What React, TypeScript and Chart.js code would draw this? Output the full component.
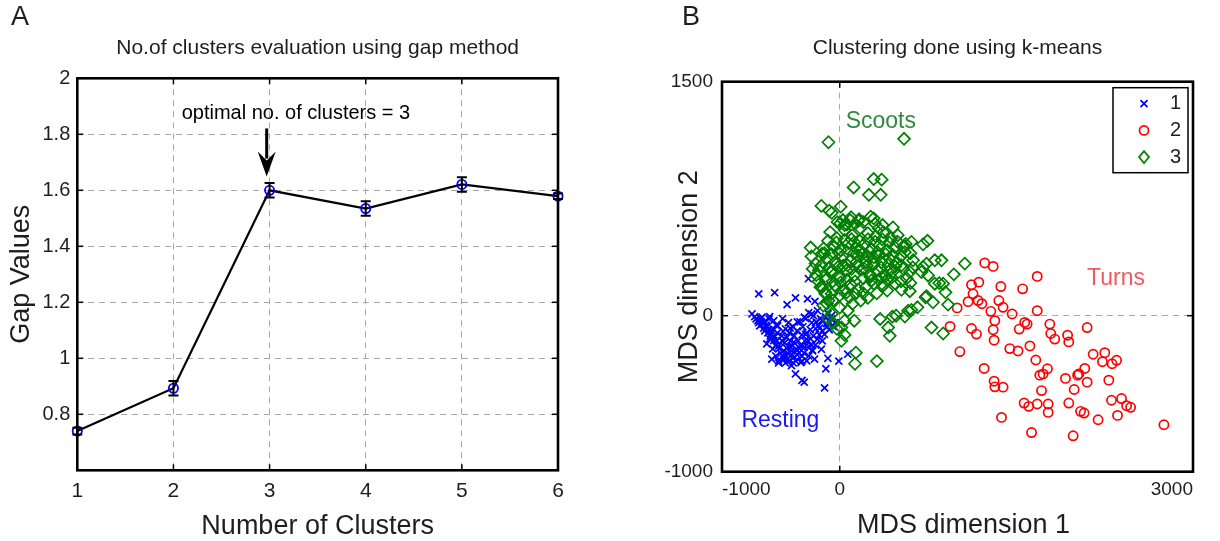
import React, { useEffect, useRef } from 'react';
import { Chart, registerables } from 'chart.js';

Chart.register(...registerables);

const FONT = '"Liberation Sans", Arial, Helvetica, sans-serif';
const TEXT = '#1e1e1e';

// ---------------- Panel A data ----------------
const clusterCounts = [1, 2, 3, 4, 5, 6];
const gapValues = [0.74, 0.893, 1.6, 1.535, 1.621, 1.579];
const gapErrors = [0.012, 0.026, 0.026, 0.026, 0.026, 0.01];
const gapXTicks = [1, 2, 3, 4, 5, 6];
const gapYTicks = [0.8, 1, 1.2, 1.4, 1.6, 1.8, 2];

// ---------------- Panel B data ----------------
const mdsXTicks = [-1000, 0, 3000];
const mdsYTicks = [-1000, 0, 1500];
const legendLabels = ['1', '2', '3'];

// cluster 1 (Resting)
const restingPoints: [number, number][] = [
  [-722, -6], [-696, -32], [-671, -19], [-654, -52], [-637, -39], [-620, -71], [-680, -65], [-637, -97],
  [-603, -90], [-586, -116], [-569, -84], [-553, -136], [-595, -148], [-535, -161], [-493, -129], [-519, -194],
  [-469, -174], [-477, -226], [-452, -207], [-436, -245], [-485, -258], [-444, -278], [-411, -226], [-403, -194],
  [-387, -265], [-419, -161], [-370, -213], [-345, -239], [-329, -194], [-354, -161], [-387, -129], [-428, -110],
  [-461, -84], [-527, -65], [-561, -32], [-595, -6], [-485, -19], [-436, -45], [-395, -71], [-362, -97],
  [-321, -123], [-296, -161], [-271, -200], [-304, -239], [-263, -258], [-230, -226], [-206, -187], [-247, -148],
  [-280, -110], [-313, -71], [-337, -39], [-288, -19], [-238, -45], [-206, -84], [-173, -123], [-148, -161],
  [-181, -65], [-140, -32], [-107, -71], [-82, -45], [-123, -6], [-164, -19], [-222, 0], [-263, 19],
  [-189, 32], [-99, 13], [-66, -19], [-41, -45], [-148, -97], [-214, -278], [-321, -291], [-395, -303],
  [-461, -303], [-543, -258], [-569, -213], [-620, -181], [-577, -278], [-519, -303],
  [-266, 237], [-688, 140], [-553, 148], [-447, 71], [-376, 114], [-274, 108], [-211, 92], [-745, 11],
  [-8, -291], [68, -247], [-101, -273], [-376, -373], [-321, -415], [-302, -426], [-118, -340], [-129, -463],
  [-156, -215], [-233, -221],
  [-710, -20], [-690, -45], [-665, -40], [-645, -80], [-625, -60], [-610, -110], [-590, -130], [-575, -100],
  [-560, -160], [-545, -190], [-530, -110], [-515, -210], [-500, -240], [-490, -160], [-475, -280], [-460, -250],
  [-450, -140], [-430, -290], [-420, -200], [-405, -250], [-390, -170], [-375, -290], [-360, -250], [-340, -210],
  [-320, -260], [-300, -200], [-290, -120], [-270, -160], [-250, -90], [-240, -190], [-225, -130], [-200, -40],
  [-190, -150], [-170, -80], [-150, -30], [-130, -120], [-110, -50], [-90, -90], [-70, 0], [-55, -70],
  [-660, -10], [-600, -20], [-540, -60], [-480, -100], [-420, -80], [-360, -40], [-300, -10], [-240, 10],
  [-330, -300], [-280, -290], [-410, -320], [-520, -290],
];

// cluster 2 (Turns)
const turnsPoints: [number, number][] = [
  [1231, 338], [1303, 316], [1677, 252], [1119, 198], [1181, 215], [1368, 187], [1553, 172], [1132, 140],
  [1090, 90], [1175, 97], [1207, 77], [997, 50], [1351, 97], [1387, 54], [1283, 28], [1464, 11],
  [1677, 32], [1317, -32], [937, -69], [1119, -82], [1161, -118], [1303, -90], [1311, -157], [1571, -43],
  [1591, -54], [1524, -86], [1784, -54], [1792, -114], [1826, -150], [1935, -125], [1945, -168], [2101, -76],
  [1020, -230], [1444, -211], [1514, -226], [1615, -194], [1665, -284], [1226, -338], [1311, -420], [1317, -456],
  [1387, -458], [1699, -381], [1727, -373], [1764, -340], [1714, -480], [1566, -560], [1605, -581], [1677, -566],
  [1770, -566], [1770, -620], [1374, -652], [1629, -749], [1917, -402], [2020, -381], [2031, -373], [2081, -338],
  [2101, -426], [1991, -473], [1945, -560], [2045, -613], [2075, -624], [1982, -770], [2194, -667], [2152, -247],
  [2251, -237], [2231, -295], [2313, -308], [2351, -286], [2285, -413], [2308, -542], [2393, -531], [2436, -577],
  [2470, -587], [2359, -639], [2753, -699],
];

// cluster 3 (Scoots)
const scootsPoints: [number, number][] = [
  [-96, 1112], [546, 1134], [288, 876], [356, 872], [118, 822], [247, 775], [348, 775], [-156, 704],
  [-90, 673], [-68, 660], [8, 699], [96, 631], [164, 618], [288, 624], [364, 581], [452, 566],
  [-247, 437], [-137, 431], [609, 473], [745, 480], [708, 458], [41, 581], [27, 613], [-47, 441],
  [538, 441], [623, 355], [708, 312], [807, 355], [864, 355], [1062, 334], [969, 265], [807, 205],
  [898, 150], [920, 71], [878, 205], [737, 125], [792, 86], [479, 0], [581, 32], [553, -5],
  [660, 54], [343, -21], [411, -76], [425, -129], [779, -76], [878, -114], [14, -76], [41, -123],
  [14, -161], [137, -237], [129, -308], [315, -291], [-68, 11], [-109, 76], [-123, 140], [-150, 183],
  [-150, 398], [553, 445], [737, 334], [694, 280], [750, 258], [728, 118], [595, 157], [524, 166],
  [403, 161], [315, 144], [238, 114], [609, 37], [447, -6], [123, -32], [41, -32], [-178, 291],
  [-206, 334], [-109, 237], [-68, 291], [-14, 312], [82, 118], [109, 76], [68, 32], [178, 97],
  [220, 183], [288, 205], [356, 247], [425, 291], [524, 323], [595, 280], [-96, 97], [-164, 183],
  [-123, 150], [263, 635], [159, 609], [89, 613], [4, 592], [845, 209],
  [-82, 536], [-25, 497], [41, 549], [107, 516], [173, 562], [238, 529], [304, 510], [370, 536],
  [436, 497], [493, 516], [-58, 452], [8, 420], [74, 465], [140, 433], [206, 458], [271, 426],
  [337, 452], [403, 420], [469, 439], [553, 407], [-107, 368], [-41, 342], [25, 381], [90, 355],
  [156, 387], [222, 342], [288, 374], [354, 342], [419, 368], [485, 342], [-74, 278], [-8, 252],
  [58, 291], [123, 258], [189, 297], [255, 265], [321, 291], [387, 252], [452, 284], [569, 239],
  [-41, 194], [25, 161], [90, 200], [156, 168], [271, 226], [370, 194], [469, 207], [-58, 97],
  [0, 52], [206, 303], [140, 342], [173, 420], [238, 381], [321, 407], [66, 323], [123, 471],
  [8, 213], [-140, 65], [-99, -19], [-58, -45], [-25, -84],
  [-20, 600], [60, 585], [130, 590], [200, 600], [300, 590], [330, 560],
  [-100, 480], [-30, 470], [40, 485], [100, 490], [170, 480], [240, 490], [300, 475], [360, 490],
  [420, 470], [490, 475], [560, 460],
  [-130, 400], [-70, 395], [-10, 405], [60, 410], [120, 400], [190, 395], [255, 410], [330, 385],
  [390, 395], [450, 390], [520, 380], [600, 400],
  [-160, 320], [-90, 310], [-30, 330], [30, 320], [100, 300], [160, 315], [230, 320], [290, 330],
  [350, 310], [410, 325], [470, 315], [540, 300], [620, 310],
  [-120, 230], [-60, 220], [0, 240], [60, 230], [130, 220], [200, 240], [260, 250], [330, 230],
  [400, 230], [440, 245], [520, 220], [600, 210],
  [-70, 140], [0, 130], [60, 150], [130, 140], [200, 145],
  [-230, 300], [-200, 260], [-180, 220], [-240, 380],
];

// annotation anchors (data coordinates)
const optimalLabelAnchor = { x: 2.086, y: 1.875 };
const optimalArrow = { x: 2.97, yFrom: 1.821, yTo: 1.649 };
const clusterNameAnchors = [
  { text: 'Scoots', x: 50, y: 1245, color: '#2f8a3f' },
  { text: 'Turns', x: 2100, y: 238, color: '#ef5a5f' },
  { text: 'Resting', x: -835, y: -675, color: '#1818f5' },
];

const font = (size: number) => `${size}px ${FONT}`;

function line(ctx: CanvasRenderingContext2D, x1: number, y1: number, x2: number, y2: number) {
  ctx.beginPath();
  ctx.moveTo(x1, y1);
  ctx.lineTo(x2, y2);
  ctx.stroke();
}

const framePlugin = {
  id: 'frame',
  afterDraw(chart: any) {
    const { ctx, chartArea: a, scales } = chart;
    ctx.save();
    ctx.strokeStyle = '#000';
    ctx.lineWidth = 1.5;
    for (const t of scales.x.ticks) {
      const px = scales.x.getPixelForValue(t.value);
      line(ctx, px, a.top, px, a.top + 6);
      line(ctx, px, a.bottom, px, a.bottom - 6);
    }
    for (const t of scales.y.ticks) {
      const py = scales.y.getPixelForValue(t.value);
      line(ctx, a.left, py, a.left + 6, py);
      line(ctx, a.right, py, a.right - 6, py);
    }
    ctx.lineWidth = 2.6;
    ctx.strokeRect(a.left, a.top, a.right - a.left, a.bottom - a.top);
    ctx.restore();
  },
};

const errorBarPlugin = {
  id: 'errorBars',
  afterDatasetsDraw(chart: any) {
    const { ctx, scales: { x, y } } = chart;
    ctx.save();
    ctx.strokeStyle = '#000';
    ctx.lineWidth = 2;
    clusterCounts.forEach((c, i) => {
      const px = x.getPixelForValue(c);
      const top = y.getPixelForValue(gapValues[i] + gapErrors[i]);
      const bot = y.getPixelForValue(gapValues[i] - gapErrors[i]);
      ctx.beginPath();
      ctx.moveTo(px, top); ctx.lineTo(px, bot);
      ctx.moveTo(px - 5, top); ctx.lineTo(px + 5, top);
      ctx.moveTo(px - 5, bot); ctx.lineTo(px + 5, bot);
      ctx.stroke();
    });
    ctx.restore();
  },
};

const textPluginA = {
  id: 'textA',
  afterDraw(chart: any) {
    const { ctx, chartArea: a, scales: { x, y } } = chart;
    const cx = (a.left + a.right) / 2;
    ctx.save();
    ctx.fillStyle = TEXT;
    ctx.textBaseline = 'middle';
    ctx.textAlign = 'left';
    ctx.font = font(27);
    ctx.fillText('A', 11, 18);
    ctx.textAlign = 'center';
    ctx.font = font(21);
    ctx.fillText('No.of clusters evaluation using gap method', cx, 48);
    ctx.font = font(27);
    ctx.fillText('Number of Clusters', cx, 527);
    ctx.save();
    ctx.translate(22, (a.top + a.bottom) / 2);
    ctx.rotate(-Math.PI / 2);
    ctx.fillText('Gap Values', 0, 0);
    ctx.restore();
    // annotation
    ctx.textAlign = 'left';
    ctx.font = font(20);
    ctx.fillStyle = '#000';
    ctx.fillText('optimal no. of clusters = 3', x.getPixelForValue(optimalLabelAnchor.x), y.getPixelForValue(optimalLabelAnchor.y));
    const ax = x.getPixelForValue(optimalArrow.x);
    const y1 = y.getPixelForValue(optimalArrow.yFrom);
    const y2 = y.getPixelForValue(optimalArrow.yTo);
    ctx.strokeStyle = '#000';
    ctx.lineWidth = 3;
    line(ctx, ax, y1, ax, y2 - 18);
    ctx.beginPath();
    ctx.moveTo(ax - 9, y2 - 25);
    ctx.lineTo(ax, y2 - 16);
    ctx.lineTo(ax + 9, y2 - 25);
    ctx.lineTo(ax, y2);
    ctx.closePath();
    ctx.fill();
    ctx.restore();
  },
};

const textPluginB = {
  id: 'textB',
  afterDraw(chart: any) {
    const { ctx, chartArea: a, scales: { x, y } } = chart;
    const cx = (a.left + a.right) / 2;
    ctx.save();
    ctx.fillStyle = TEXT;
    ctx.textBaseline = 'middle';
    ctx.textAlign = 'left';
    ctx.font = font(27);
    ctx.fillText('B', 72, 18);
    ctx.textAlign = 'center';
    ctx.font = font(21);
    ctx.fillText('Clustering done using k-means', cx, 48);
    ctx.font = font(27);
    ctx.fillText('MDS dimension 1', cx + 6, 526);
    ctx.save();
    ctx.translate(80, (a.top + a.bottom) / 2);
    ctx.rotate(-Math.PI / 2);
    ctx.fillText('MDS dimension 2', 0, 0);
    ctx.restore();
    // cluster names
    ctx.textAlign = 'left';
    ctx.font = font(23);
    for (const n of clusterNameAnchors) {
      ctx.fillStyle = n.color;
      ctx.fillText(n.text, x.getPixelForValue(n.x), y.getPixelForValue(n.y));
    }
    // legend
    const bx = a.right - 80, by = a.top + 6, bw = 75, bh = 85;
    ctx.fillStyle = '#fff';
    ctx.fillRect(bx, by, bw, bh);
    ctx.strokeStyle = '#000';
    ctx.lineWidth = 1.5;
    ctx.strokeRect(bx, by, bw, bh);
    const ds = chart.data.datasets;
    legendLabels.forEach((lab, i) => {
      const ly = by + 16 + i * 26.7;
      const mx = bx + 31;
      const d = ds.find((q: any) => q.label === lab);
      ctx.strokeStyle = d.borderColor;
      ctx.lineWidth = 1.7;
      if (d.pointStyle === 'crossRot') {
        line(ctx, mx - 3.5, ly - 3.5, mx + 3.5, ly + 3.5);
        line(ctx, mx - 3.5, ly + 3.5, mx + 3.5, ly - 3.5);
      } else if (d.pointStyle === 'circle') {
        ctx.beginPath();
        ctx.arc(mx, ly, 4.5, 0, Math.PI * 2);
        ctx.stroke();
      } else {
        ctx.beginPath();
        ctx.moveTo(mx - 5, ly); ctx.lineTo(mx, ly - 6); ctx.lineTo(mx + 5, ly); ctx.lineTo(mx, ly + 6);
        ctx.closePath();
        ctx.stroke();
      }
      ctx.fillStyle = TEXT;
      ctx.font = font(20);
      ctx.textAlign = 'right';
      ctx.fillText(lab, bx + 68, ly);
    });
    ctx.restore();
  },
};

const tickFmt = (v: any) => String(Number(v));

function PanelA() {
  const ref = useRef<HTMLCanvasElement>(null);
  useEffect(() => {
    const chart = new Chart(ref.current!, {
      type: 'line',
      data: {
        datasets: [{
          data: clusterCounts.map((c, i) => ({ x: c, y: gapValues[i] })),
          borderColor: '#000',
          borderWidth: 2.2,
          pointStyle: 'circle',
          pointRadius: 4.6,
          pointBorderColor: '#0000ff',
          pointBackgroundColor: 'rgba(0,0,0,0)',
          pointBorderWidth: 1.8,
          tension: 0,
          clip: false as any,
        }],
      },
      options: {
        animation: false,
        responsive: false,
        events: [],
        layout: { padding: { left: 0, right: 52, top: 78.3, bottom: 0 } },
        plugins: { legend: { display: false }, title: { display: false }, tooltip: { enabled: false } },
        scales: {
          x: {
            type: 'linear', min: 1, max: 6,
            afterBuildTicks: (s: any) => { s.ticks = gapXTicks.map((v) => ({ value: v })); },
            afterFit: (s: any) => { s.height = 70.7; },
            grid: { color: '#a8a8a8', lineWidth: 1, drawTicks: false },
            border: { display: false, dash: [6, 5] },
            ticks: { padding: 8, color: TEXT, font: { family: FONT, size: 21 }, maxRotation: 0, autoSkip: false, callback: tickFmt },
          },
          y: {
            type: 'linear', min: 0.6, max: 2,
            afterBuildTicks: (s: any) => { s.ticks = gapYTicks.map((v) => ({ value: v })); },
            afterFit: (s: any) => { s.width = 77.3; },
            grid: { color: '#a8a8a8', lineWidth: 1, drawTicks: false },
            border: { display: false, dash: [6, 5] },
            ticks: { padding: 7, color: TEXT, font: { family: FONT, size: 20 }, autoSkip: false, callback: tickFmt },
          },
        },
      } as any,
      plugins: [framePlugin, errorBarPlugin, textPluginA],
    });
    return () => chart.destroy();
  }, []);
  return <canvas ref={ref} width={610} height={541} style={{ position: 'absolute', left: 0, top: 0, width: 610, height: 541 }} />;
}

function PanelB() {
  const ref = useRef<HTMLCanvasElement>(null);
  useEffect(() => {
    const toXY = (pts: [number, number][]) => pts.map(([x, y]) => ({ x, y }));
    const chart = new Chart(ref.current!, {
      type: 'scatter',
      data: {
        datasets: [
          {
            label: '1', data: toXY(restingPoints), order: 2,
            pointStyle: 'crossRot', pointRadius: 5, borderColor: '#0000ff', backgroundColor: '#0000ff', pointBorderWidth: 1.7,
          },
          {
            label: '2', data: toXY(turnsPoints), order: 1,
            pointStyle: 'circle', pointRadius: 4.6, borderColor: '#ff0000', backgroundColor: 'rgba(0,0,0,0)', pointBorderWidth: 1.7,
          },
          {
            label: '3', data: toXY(scootsPoints), order: 0,
            pointStyle: 'rectRot', pointRadius: 6, borderColor: '#008000', backgroundColor: 'rgba(0,0,0,0)', pointBorderWidth: 1.7,
          },
        ],
      },
      options: {
        animation: false,
        responsive: false,
        events: [],
        layout: { padding: { left: 0, right: 27, top: 81.7, bottom: 0 } },
        plugins: { legend: { display: false }, title: { display: false }, tooltip: { enabled: false } },
        scales: {
          x: {
            type: 'linear', min: -1000, max: 3000,
            afterBuildTicks: (s: any) => { s.ticks = mdsXTicks.map((v) => ({ value: v })); },
            afterFit: (s: any) => { s.height = 69.3; },
            grid: { color: '#a8a8a8', lineWidth: 1, drawTicks: false },
            border: { display: false, dash: [6, 5] },
            ticks: { padding: 7, align: 'inner', color: TEXT, font: { family: FONT, size: 19 }, maxRotation: 0, autoSkip: false, callback: tickFmt },
          },
          y: {
            type: 'linear', min: -1000, max: 1500,
            afterBuildTicks: (s: any) => { s.ticks = mdsYTicks.map((v) => ({ value: v })); },
            afterFit: (s: any) => { s.width = 112; },
            grid: { color: '#a8a8a8', lineWidth: 1, drawTicks: false },
            border: { display: false, dash: [6, 5] },
            ticks: { padding: 9, color: TEXT, font: { family: FONT, size: 19 }, autoSkip: false, callback: tickFmt },
          },
        },
      } as any,
      plugins: [framePlugin, textPluginB],
    });
    return () => chart.destroy();
  }, []);
  return <canvas ref={ref} width={610} height={541} style={{ position: 'absolute', left: 610, top: 0, width: 610, height: 541 }} />;
}

export default function App() {
  return (
    <div style={{ position: 'fixed', left: 0, top: 0, width: 1220, height: 541, background: '#fff', overflow: 'hidden' }}>
      <PanelA />
      <PanelB />
    </div>
  );
}
